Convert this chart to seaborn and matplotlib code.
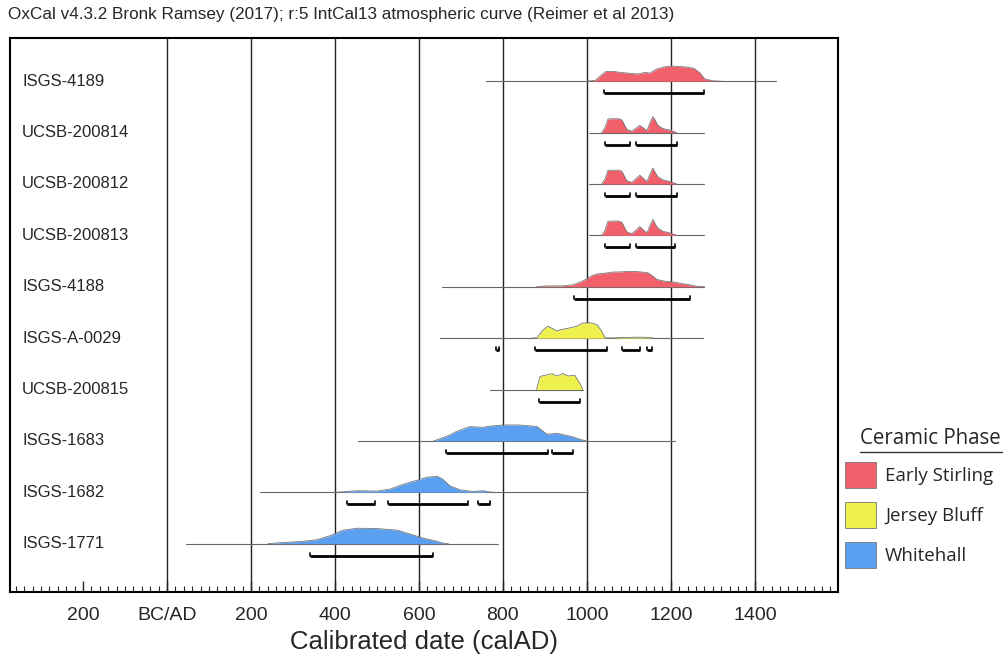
import numpy as np
import pandas as pd
import matplotlib
matplotlib.use('Agg')
import matplotlib.pyplot as plt
from matplotlib.patches import Patch
from matplotlib.lines import Line2D
import seaborn as sns

# sample labels (top to bottom) and ceramic phase
samples = ['ISGS-4189', 'UCSB-200814', 'UCSB-200812', 'UCSB-200813', 'ISGS-4188',
           'ISGS-A-0029', 'UCSB-200815', 'ISGS-1683', 'ISGS-1682', 'ISGS-1771']
phases = ['Early Stirling'] * 5 + ['Jersey Bluff'] * 2 + ['Whitehall'] * 3

# calibrated probability curves (year calAD, relative density)
yrs_4189 = [1000, 1020, 1035, 1045, 1060, 1080, 1100, 1120, 1140, 1150, 1165, 1185, 1200, 1220, 1240, 1255, 1270, 1280, 1300, 1320]
den_4189 = [0, 0.05, 0.4, 0.6, 0.62, 0.55, 0.5, 0.45, 0.55, 0.5, 0.75, 0.9, 0.95, 0.92, 0.88, 0.8, 0.5, 0.15, 0.02, 0]
yrs_200814 = [1035, 1043, 1050, 1060, 1075, 1083, 1095, 1107, 1118, 1126, 1134, 1143, 1150, 1157, 1163, 1169, 1181, 1198, 1214]
den_200814 = [0, 0.3, 0.85, 0.87, 0.87, 0.8, 0.2, 0.08, 0.3, 0.45, 0.3, 0.12, 0.6, 1.0, 0.75, 0.45, 0.25, 0.15, 0]
yrs_200812 = [1035, 1043, 1050, 1060, 1075, 1083, 1095, 1107, 1118, 1126, 1134, 1143, 1150, 1157, 1163, 1169, 1181, 1198, 1214]
den_200812 = [0, 0.3, 0.85, 0.86, 0.86, 0.8, 0.2, 0.1, 0.35, 0.55, 0.35, 0.15, 0.6, 1.0, 0.7, 0.45, 0.25, 0.15, 0]
yrs_200813 = [1035, 1043, 1050, 1060, 1075, 1083, 1095, 1107, 1118, 1126, 1134, 1143, 1150, 1157, 1163, 1169, 1181, 1198, 1214]
den_200813 = [0, 0.3, 0.88, 0.9, 0.9, 0.82, 0.22, 0.1, 0.35, 0.55, 0.35, 0.15, 0.6, 1.0, 0.7, 0.45, 0.25, 0.15, 0]
yrs_4188 = [880, 900, 940, 967, 985, 1000, 1012, 1024, 1043, 1060, 1080, 1095, 1120, 1145, 1155, 1167, 1185, 1205, 1225, 1238, 1262, 1280]
den_4188 = [0, 0.05, 0.05, 0.12, 0.3, 0.5, 0.7, 0.8, 0.85, 0.92, 0.93, 0.96, 0.95, 0.88, 0.7, 0.45, 0.35, 0.3, 0.2, 0.15, 0.03, 0]
yrs_a0029 = [870, 881, 895, 907, 918, 928, 940, 952, 965, 976, 990, 1007, 1024, 1036, 1043, 1060, 1086, 1100, 1120, 1140, 1150, 1160]
den_a0029 = [0, 0.02, 0.5, 0.75, 0.6, 0.45, 0.55, 0.6, 0.68, 0.75, 0.95, 0.97, 0.85, 0.4, 0.02, 0.01, 0.05, 0.04, 0.06, 0.05, 0.03, 0]
yrs_200815 = [880, 888, 895, 905, 917, 928, 943, 955, 971, 983, 990]
den_200815 = [0, 0.8, 0.87, 0.92, 1.0, 0.85, 1.0, 0.85, 0.9, 0.4, 0]
yrs_1683 = [635, 667, 690, 721, 752, 769, 800, 840, 881, 905, 928, 960, 990, 1000]
den_1683 = [0, 0.3, 0.6, 0.9, 0.85, 0.93, 1.0, 1.0, 0.9, 0.42, 0.48, 0.3, 0.05, 0]
yrs_1682 = [400, 419, 452, 500, 531, 562, 595, 619, 643, 655, 674, 698, 729, 752, 769, 780]
den_1682 = [0, 0.03, 0.1, 0.08, 0.2, 0.5, 0.75, 0.95, 1.0, 0.85, 0.4, 0.15, 0.05, 0.1, 0.02, 0]
yrs_1771 = [240, 262, 324, 357, 388, 419, 452, 500, 548, 579, 610, 643, 657, 670]
den_1771 = [0, 0.05, 0.15, 0.25, 0.5, 0.85, 0.97, 0.95, 0.85, 0.6, 0.35, 0.15, 0.03, 0]

curve_years = [yrs_4189, yrs_200814, yrs_200812, yrs_200813, yrs_4188,
               yrs_a0029, yrs_200815, yrs_1683, yrs_1682, yrs_1771]
curve_dens = [den_4189, den_200814, den_200812, den_200813, den_4188,
              den_a0029, den_200815, den_1683, den_1682, den_1771]

# extent of the plotted date range for each sample
spans = [(760, 1450), (1005, 1280), (1005, 1280), (1005, 1280), (655, 1280),
         (650, 1276), (770, 990), (455, 1210), (221, 1002), (45, 788)]

# 95.4% ranges
ranges = [[(1040, 1280)],
          [(1043, 1102), (1117, 1214)],
          [(1043, 1102), (1117, 1214)],
          [(1043, 1102), (1117, 1210)],
          [(969, 1245)],
          [(783, 790), (876, 1048), (1083, 1126), (1143, 1155)],
          [(886, 983)],
          [(664, 907), (917, 967)],
          [(429, 495), (526, 717), (740, 769)],
          [(340, 633)]]

tick_pos = [-200, 0, 200, 400, 600, 800, 1000, 1200, 1400]
tick_lbl = ['200', 'BC/AD', '200', '400', '600', '800', '1000', '1200', '1400']

colors = {'Early Stirling': '#f2606b', 'Jersey Bluff': '#eef04e', 'Whitehall': '#5b9ff0'}

sns.set_style('white')
plt.rcParams['font.family'] = ['Liberation Sans', 'DejaVu Sans']

H = 0.31      # peak height in row units
BAR = 0.235   # offset of the range bar below baseline

rows = []
for i, (s, p) in enumerate(zip(samples, phases)):
    for yr, d in zip(curve_years[i], curve_dens[i]):
        rows.append({'sample': s, 'phase': p, 'year': yr, 'y': i - H * d, 'base': i})
df = pd.DataFrame(rows)

fig = plt.figure(figsize=(10.07, 6.54), dpi=100)
ax = fig.add_axes([10 / 1007, 62 / 654, 828 / 1007, 554 / 654])

for g in range(0, 1401, 200):
    ax.axvline(g, color='#222222', lw=1.0, zorder=1)

for i, (a, b) in enumerate(spans):
    ax.plot([a, b], [i, i], color='#666666', lw=0.8, zorder=2)

for s, sub in df.groupby('sample', sort=False):
    ax.fill_between(sub['year'], sub['base'], sub['y'], color=colors[sub['phase'].iloc[0]],
                    lw=0, zorder=3)
sns.lineplot(data=df, x='year', y='y', units='sample', estimator=None, color='#777777',
             lw=0.6, ax=ax, zorder=4, sort=False)

for i, rr in enumerate(ranges):
    yb = i + BAR
    for a, b in rr:
        ax.plot([a, b], [yb, yb], color='black', lw=2, zorder=5, solid_capstyle='butt')
        ax.plot([a, a], [yb, yb - 0.06], color='black', lw=1.2, zorder=5)
        ax.plot([b, b], [yb, yb - 0.06], color='black', lw=1.2, zorder=5)

for i, s in enumerate(samples):
    ax.text(-345, i, s, fontsize=12, va='center', ha='left')

ax.set_xlim(-374, 1598)
ax.set_ylim(9.94, -0.84)
ax.set_yticks([])
ax.set_xticks(tick_pos)
ax.set_xticklabels(tick_lbl, fontsize=14)
ax.set_xticks(np.arange(-360, 1600, 20), minor=True)
ax.tick_params(axis='x', which='major', direction='in', length=8, width=1, pad=11, bottom=True)
ax.tick_params(axis='x', which='minor', direction='in', length=4, width=0.8, bottom=True)
ax.set_xlabel('Calibrated date (calAD)', fontsize=18.5, labelpad=4)
ax.set_ylabel('')
for sp in ax.spines.values():
    sp.set_color('black')
    sp.set_linewidth(1.5)

fig.text(8 / 1007, 1 - 15 / 654, 'OxCal v4.3.2 Bronk Ramsey (2017); r:5 IntCal13 atmospheric curve (Reimer et al 2013)',
         fontsize=12.3, va='center', ha='left')

# legend
fig.text(860 / 1007, 1 - 438 / 654, 'Ceramic Phase', family=['Open Sans', 'DejaVu Sans'],
         fontsize=14.8, va='center', ha='left')
fig.add_artist(Line2D([860 / 1007, 1002 / 1007], [1 - 452 / 654, 1 - 452 / 654],
                      color='#333333', lw=1))
handles = [Patch(facecolor=colors[k], edgecolor='#777777', lw=0.6) for k in colors]
fig.legend(handles, list(colors), loc='upper left', bbox_to_anchor=(828 / 1007, 1 - 445 / 654),
           frameon=False, prop={'family': ['Open Sans', 'DejaVu Sans'], 'size': 13.5},
           handlelength=1.65, handleheight=1.75, labelspacing=0.75, handletextpad=0.5)

fig.savefig('out.png', dpi=100, facecolor='white')
plt.close(fig)
